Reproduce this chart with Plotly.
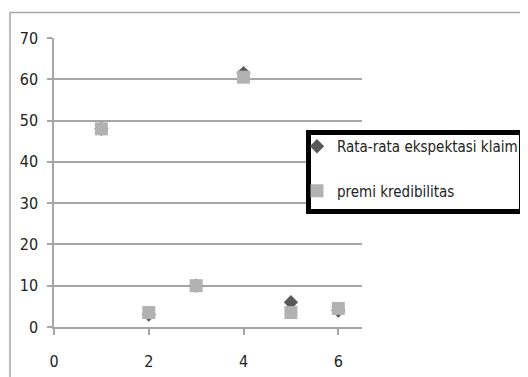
import plotly.graph_objects as go

# ---- data ----
x_vals = [1, 2, 3, 4, 5, 6]
rata_rata = [48, 3, 10, 61.5, 6, 4]
premi = [48, 3.5, 10, 60.5, 3.5, 4.5]
series_names = ["Rata-rata ekspektasi klaim", "premi kredibilitas"]
x_ticks = [0, 2, 4, 6]
y_ticks = [0, 10, 20, 30, 40, 50, 60, 70]

OFF = 8  # page body margin of the browser
W, H = 528 - OFF, 377 - OFF
L, R, T, B = 54 - OFF, 362 - OFF, 38 - OFF, 327 - OFF  # plot area in figure px


def px_x(p):
    return (p - OFF - L) / (R - L)


def px_y(p):
    return (B - (p - OFF)) / (B - T)


FONT = "DejaVu Sans Condensed, Liberation Sans Narrow, Arial Narrow, sans-serif"
GRID = "#a6a6a6"

fig = go.Figure()
fig.add_trace(go.Scatter(
    x=x_vals, y=rata_rata, mode="markers", name=series_names[0],
    legendgroup="a",
    marker=dict(symbol="diamond", size=11, color="#595959"),
))
fig.add_trace(go.Scatter(
    x=x_vals, y=premi, mode="markers", name=series_names[1],
    legendgroup="b",
    marker=dict(symbol="square", size=13, color="#b2b2b2"),
))

BW = 5
fig.update_layout(
    width=W, height=H,
    margin=dict(l=L, r=W - R, t=T, b=H - B, pad=0, autoexpand=False),
    paper_bgcolor="white", plot_bgcolor="white",
    font=dict(family=FONT, size=16, color="#222222"),
    showlegend=True,
    legend=dict(
        x=px_x(297), y=px_y(130), xanchor="left", yanchor="top",
        borderwidth=0, bgcolor="rgba(0,0,0,0)",
        font=dict(family=FONT, size=15, color="#222222"),
        tracegroupgap=22, itemwidth=30,
    ),
    xaxis=dict(
        range=[0, 6.5], tickvals=x_ticks, showgrid=False, zeroline=False,
        showline=True, linecolor=GRID, linewidth=1.5,
        ticks="outside", ticklen=6, tickcolor=GRID, tickwidth=1.5,
        ticklabelstandoff=13,
    ),
    yaxis=dict(
        range=[0, 70], tickvals=y_ticks, showgrid=True, gridcolor=GRID,
        gridwidth=1.5, zeroline=False,
        showline=True, linecolor=GRID, linewidth=1.5,
        ticks="outside", ticklen=5, tickcolor=GRID, tickwidth=1.5,
        ticklabelstandoff=6,
    ),
    shapes=[
        dict(type="line", xref="paper", yref="paper",
             x0=px_x(10), x1=px_x(530), y0=px_y(12.5), y1=px_y(12.5),
             line=dict(color=GRID, width=1.5)),
        dict(type="line", xref="paper", yref="paper",
             x0=px_x(10), x1=px_x(10), y0=px_y(12.5), y1=px_y(380),
             line=dict(color=GRID, width=1.5)),
        dict(type="rect", xref="paper", yref="paper", layer="above",
             x0=px_x(306 + BW / 2), x1=px_x(524 - BW / 2),
             y0=px_y(130 + BW / 2), y1=px_y(214 - BW / 2),
             fillcolor="white", line=dict(color="black", width=BW)),
    ],
)

fig.write_html("out.html")
